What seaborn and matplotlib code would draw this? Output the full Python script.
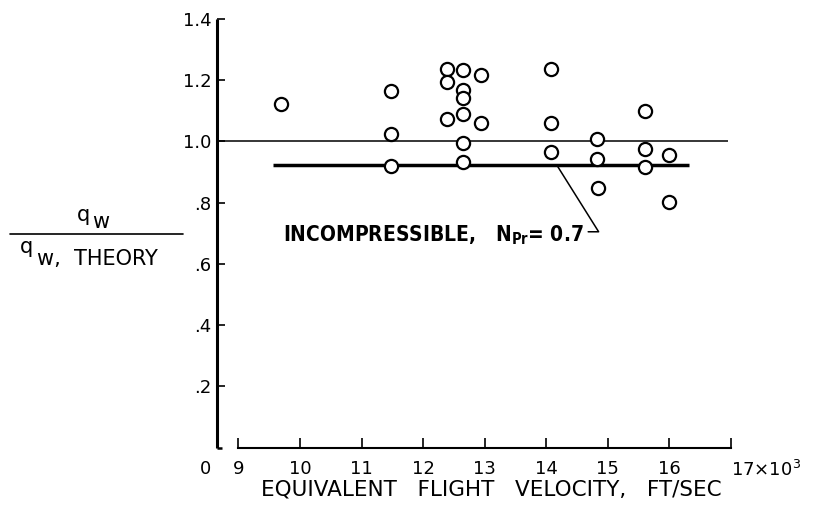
import matplotlib
matplotlib.use("Agg")
import matplotlib.pyplot as plt
import seaborn as sns
import pandas as pd
from matplotlib.lines import Line2D

# ---- data (velocity in thousands of ft/sec) ----
velocity = [9.69, 11.47, 11.47, 11.48, 12.39, 12.39, 12.39, 12.64, 12.64,
            12.64, 12.64, 12.64, 12.64, 12.94, 12.94, 14.08, 14.08, 14.08,
            14.83, 14.83, 14.84, 15.60, 15.60, 15.61, 16.00, 16.00]
heat_ratio = [1.123, 1.164, 1.024, 0.921, 1.238, 1.193, 1.075, 1.233, 1.168,
              1.143, 1.091, 0.994, 0.934, 1.216, 1.061, 1.236, 1.061, 0.965,
              1.009, 0.943, 0.847, 1.100, 0.976, 0.918, 0.955, 0.802]

theory_level = 1.0
theory_span = [8.646, 16.95]
incompressible_level = 0.923
incompressible_span = [9.56, 16.32]
leader_x = [14.17, 14.85, 14.68]
leader_y = [0.923, 0.705, 0.705]

x_ticks = [9, 10, 11, 12, 13, 14, 15, 16, 17]
x_labels = ["9", "10", "11", "12", "13", "14", "15", "16", "17×10$^3$"]
y_ticks = [0.2, 0.4, 0.6, 0.8, 1.0, 1.2, 1.4]
y_labels = [".2", ".4", ".6", ".8", "1.0", "1.2", "1.4"]
x_origin_label = "0"
x_origin_pos = 8.456
x_limits = [8.646, 17.0]
y_limits = [0.0, 1.4]

annotation_text = "INCOMPRESSIBLE,   $\\mathregular{N_{Pr}}$= 0.7"
x_title = "EQUIVALENT   FLIGHT   VELOCITY,   FT/SEC"

df = pd.DataFrame({"velocity": velocity, "ratio": heat_ratio})

sns.set_style("ticks")
plt.rcParams["font.family"] = ["DejaVu Sans"]
for key in ["text.color", "axes.labelcolor", "xtick.color", "ytick.color",
            "axes.edgecolor"]:
    plt.rcParams[key] = "black"

W, H = 815, 516
fig = plt.figure(figsize=(W / 100, H / 100), dpi=100)
ax = fig.add_axes([216.7 / W, 1 - 447.5 / H, 514.3 / W, (447.5 - 19.1) / H])

# reference lines
ax.plot(theory_span, [theory_level, theory_level], color="black", lw=1.1,
        solid_capstyle="butt", zorder=2)
ax.plot(incompressible_span, [incompressible_level, incompressible_level],
        color="black", lw=2.5, solid_capstyle="butt", zorder=2)
ax.plot(leader_x, leader_y, color="black", lw=1.1, zorder=2, clip_on=False)

sns.scatterplot(data=df, x="velocity", y="ratio", ax=ax, marker="o",
                s=90, facecolor="white", edgecolor="black", linewidth=1.6,
                zorder=3, legend=False)

ax.set_xlim(x_limits)
ax.set_ylim(y_limits)

for side in ["top", "right"]:
    ax.spines[side].set_visible(False)
ax.spines["left"].set_linewidth(2.2)
ax.spines["bottom"].set_linewidth(1.5)
ax.spines["bottom"].set_bounds(x_ticks[0], x_ticks[-1])
ax.spines["left"].set_capstyle("butt")

# little foot at the bottom of the y axis
ax.plot([x_limits[0], x_limits[0] + 0.085], [0, 0], color="black", lw=1.8,
        clip_on=False, solid_capstyle="butt")

ax.set_xticks(x_ticks, x_labels)
ax.set_yticks(y_ticks, y_labels)
ax.tick_params(axis="x", direction="in", length=7, width=1.2, pad=9,
               labelsize=13, colors="black")
ax.tick_params(axis="y", direction="in", length=6, width=1.2, pad=4,
               labelsize=13, colors="black")
lbl17 = ax.get_xticklabels()[-1]
lbl17.set_horizontalalignment("left")
lbl17.set_x(x_ticks[-1] - 0.02)

ax.annotate(x_origin_label, xy=(x_origin_pos, 0),
            xycoords=("data", "axes fraction"), xytext=(0, -9),
            textcoords="offset points", ha="center", va="top", fontsize=13,
            annotation_clip=False)

ax.set_xlabel(x_title, fontsize=15.5)
ax.xaxis.set_label_coords((491 - 216.7) / 514.3, -41.5 / 428.4)
ax.xaxis.label.set_va("center")
ax.set_ylabel("")

ax.text(9.72, 0.694, annotation_text, fontsize=15, fontweight="bold",
        family=["DejaVu Sans"], fontstretch="condensed",
        va="center", ha="left")

# y-axis title drawn as a fraction
def fx(px):
    return px / W

def fy(py):
    return 1 - py / H

fig.add_artist(Line2D([fx(10), fx(183)], [fy(234), fy(234)], color="black",
                      lw=1.2, transform=fig.transFigure))
fig.text(fx(77), fy(221), "q", fontsize=15, va="baseline", ha="left")
fig.text(fx(92), fy(228), "w", fontsize=15, va="baseline", ha="left")
fig.text(fx(20), fy(253), "q", fontsize=15, va="baseline", ha="left")
fig.text(fx(37), fy(265), "w,  THEORY", fontsize=15, va="baseline", ha="left")

fig.savefig("out.png", dpi=100, facecolor="white")
